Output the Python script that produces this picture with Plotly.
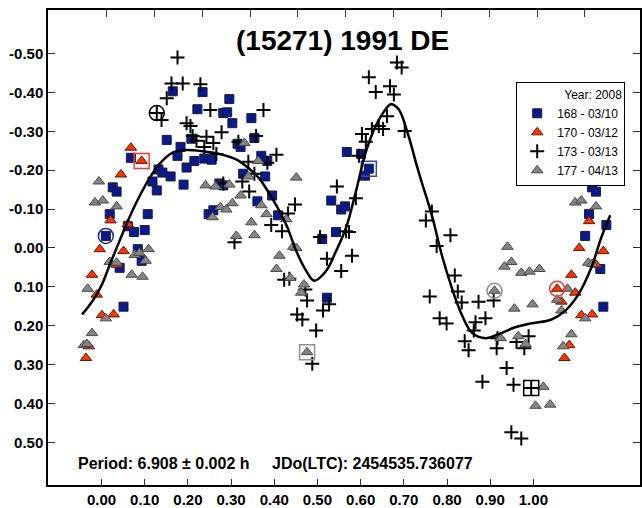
import plotly.graph_objects as go

# ---------------- data ----------------
# Night 168 - 03/10 (blue squares)
n168_phase = [0.165, 0.234, 0.296, 0.222, 0.282, 0.291, 0.347, 0.303, 0.151, 0.183,
              0.208, 0.315, 0.322, 0.354, 0.176, 0.068, 0.215, 0.238, 0.255, 0.370,
              0.384, 0.197, 0.132, 0.141, 0.160, 0.118, 0.128, 0.190, 0.273, 0.282,
              0.328, 0.379, 0.395, 0.361, 0.026, 0.035, 0.019, 0.107, 0.075, 0.100,
              0.061, 0.248, 0.259, 0.010, 0.084, 0.093, 0.042, 0.051, 0.409, 0.511,
              0.532, 0.555, 0.564, 0.543, 0.568, 0.601, 0.619, 0.610, 0.522, 1.136,
              1.145, 1.129, 1.169, 1.120, 1.155, 1.162]
n168_mag = [-0.403, -0.401, -0.383, -0.357, -0.347, -0.349, -0.334, -0.321, -0.278, -0.260,
            -0.281, -0.268, -0.260, -0.283, -0.237, -0.232, -0.224, -0.230, -0.227, -0.237,
            -0.224, -0.207, -0.202, -0.194, -0.184, -0.171, -0.148, -0.163, -0.166, -0.161,
            -0.191, -0.184, -0.135, -0.120, -0.156, -0.145, -0.087, -0.087, -0.041, -0.046,
            -0.056, -0.087, -0.097, -0.031, 0.003, 0.033, 0.051, 0.151, -0.084, -0.023,
            -0.122, -0.099, -0.107, -0.041, -0.247, -0.242, -0.204, -0.186, 0.128, -0.156,
            -0.145, -0.087, -0.059, -0.031, 0.054, 0.151]

# Night 170 - 03/12 (red triangles)
n170_phase = [0.068, 0.093, 0.045, 0.021, 0.061, -0.004, 0.051, 0.035, -0.022, -0.011,
              0.001, 0.028, -0.029, -0.036, 1.155, 1.129, 1.106, 1.162, 1.145, 1.088,
              1.055, 1.065, 1.097, 1.111, 1.136, 1.083, 1.072]
n170_mag = [-0.258, -0.224, -0.189, -0.071, -0.061, 0.003, 0.008, 0.043, 0.069, 0.120,
            0.173, 0.171, 0.253, 0.283, -0.189, -0.069, 0.000, 0.008, 0.043, 0.069,
            0.105, 0.138, 0.115, 0.173, 0.171, 0.250, 0.283]

# Night 173 - 03/13 (black crosses)
n173_phase = [0.176, 0.162, 0.188, 0.229, 0.151, 0.128, 0.139, 0.252, 0.197, 0.206,
              0.278, 0.211, 0.243, 0.259, 0.220, 0.238, 0.266, 0.317, 0.358, 0.375,
              0.405, 0.340, 0.384, 0.354, 0.326, 0.282, 0.342, 0.432, 0.448, 0.393,
              0.418, 0.308, 0.506, 0.522, 0.555, 0.580, 0.566, 0.573, 0.589, 0.545,
              0.603, 0.612, 0.626, 0.642, 0.652, 0.661, 0.635, 0.619, 0.668, 0.677,
              0.684, 0.695, 0.702, 0.423, 0.435, 0.472, 0.476, 0.453, 0.465, 0.497,
              0.513, 0.527, 0.488, 0.765, 0.751, 0.808, 0.776, 0.818, 0.825, 0.760,
              0.834, 0.873, 0.908, 0.783, 0.799, 0.866, 0.889, 0.862, 0.841, 0.850,
              0.917, 0.915, 0.961, 0.979, 0.989, 0.938, 0.882, 0.954, 0.995, 0.949,
              0.972, 0.596]
n173_mag = [-0.490, -0.423, -0.423, -0.421, -0.385, -0.347, -0.329, -0.355, -0.321, -0.314,
            -0.298, -0.288, -0.286, -0.270, -0.276, -0.260, -0.242, -0.273, -0.288, -0.355,
            -0.240, -0.222, -0.219, -0.191, -0.171, -0.166, -0.145, -0.089, -0.112, -0.059,
            -0.043, -0.015, -0.028, 0.028, 0.059, 0.020, -0.043, -0.041, -0.128, -0.158,
            -0.293, -0.273, -0.306, -0.314, -0.306, -0.339, -0.401, -0.439, -0.416, -0.395,
            -0.477, -0.464, -0.301, 0.082, 0.079, 0.107, 0.135, 0.171, 0.184, 0.212,
            0.161, 0.145, 0.298, -0.094, -0.071, -0.033, -0.005, 0.071, 0.112, 0.125,
            0.140, 0.138, 0.135, 0.181, 0.194, 0.191, 0.181, 0.212, 0.240, 0.263,
            0.232, 0.258, 0.242, 0.258, 0.227, 0.309, 0.344, 0.352, 0.360, 0.474,
            0.490, -0.237]

# Night 177 - 04/13 (grey triangles)
n177_phase = [-0.006, -0.015, 0.003, 0.035, 0.241, 0.264, 0.296, 0.322, 0.331, 0.363,
              0.451, 0.340, 0.370, 0.382, 0.275, 0.289, 0.303, 0.257, 0.347, 0.428,
              0.354, 0.312, 0.444, 0.451, 0.412, 0.405, 0.437, 0.469, 0.462, 0.476,
              0.109, 0.019, 0.035, 0.077, 0.088, 0.102, 0.070, 0.095, -0.032, 0.010,
              -0.022, -0.041, -0.034, 1.102, 1.097, 1.111, 1.145, 0.940, 0.949, 0.933,
              0.972, 0.991, 1.014, 1.127, 1.136, 0.910, 1.079, 1.055, 1.065, 0.956,
              0.998, 1.120, 1.088, 1.069, 0.924, 0.965, 0.982, 1.023, 1.005, 1.039]
n177_mag = [-0.171, -0.117, -0.122, -0.107, -0.161, -0.158, -0.163, -0.135, -0.270, -0.224,
            -0.181, -0.184, -0.110, -0.087, -0.105, -0.099, -0.115, -0.079, -0.066, -0.074,
            -0.033, -0.031, -0.003, 0.000, 0.020, 0.054, 0.077, 0.094, 0.115, 0.268,
            0.003, 0.036, 0.038, 0.018, 0.013, 0.033, 0.069, 0.074, 0.105, 0.181,
            0.219, 0.250, 0.247, -0.171, -0.117, -0.122, -0.107, -0.003, 0.036, 0.048,
            0.064, 0.061, 0.054, 0.038, 0.041, 0.110, 0.105, 0.133, 0.161, 0.156,
            0.145, 0.181, 0.222, 0.253, 0.232, 0.227, 0.247, 0.357, 0.406, 0.403]

# Highlighted reference points (one circle and one square per night)
ref_phase = [0.010, 0.093, 0.128, 0.619, 0.476, 0.910, 1.055, 0.995]
ref_mag = [-0.031, -0.224, -0.347, -0.204, 0.268, 0.110, 0.105, 0.360]

# Fourier fit curve
curve_phase = [-0.045, -0.020, 0.001, 0.019, 0.038, 0.054, 0.070, 0.088, 0.111, 0.135,
               0.165, 0.197, 0.234, 0.273, 0.312, 0.342, 0.365, 0.395, 0.428, 0.451,
               0.474, 0.492, 0.520, 0.543, 0.566, 0.589, 0.612, 0.635, 0.658, 0.670,
               0.688, 0.711, 0.730, 0.741, 0.765, 0.788, 0.811, 0.834, 0.857, 0.889,
               0.919, 0.958, 0.995, 1.042, 1.074, 1.104, 1.134, 1.157, 1.178]
curve_mag = [0.171, 0.135, 0.094, 0.043, -0.008, -0.051, -0.092, -0.133, -0.179, -0.217,
             -0.245, -0.252, -0.249, -0.242, -0.228, -0.204, -0.179, -0.128, -0.059, 0.008,
             0.059, 0.084, 0.059, 0.008, -0.051, -0.145, -0.247, -0.314, -0.357, -0.370,
             -0.357, -0.288, -0.212, -0.171, -0.084, 0.018, 0.102, 0.171, 0.217, 0.232,
             0.222, 0.204, 0.194, 0.184, 0.161, 0.120, 0.051, -0.026, -0.084]

x_tickvals = [0.0, 0.1, 0.2, 0.3, 0.4, 0.5, 0.6, 0.7, 0.8, 0.9, 1.0]
x_ticktext = ["0.00", "0.10", "0.20", "0.30", "0.40", "0.50", "0.60", "0.70", "0.80", "0.90", "1.00"]
y_tickvals = [-0.5, -0.4, -0.3, -0.2, -0.1, 0.0, 0.1, 0.2, 0.3, 0.4, 0.5]
y_ticktext = ["-0.50", "-0.40", "-0.30", "-0.20", "-0.10", "0.00", "0.10", "0.20", "0.30", "0.40", "0.50"]

title_text = "(15271) 1991 DE"
period_text = "Period: 6.908 ± 0.002 h"
epoch_text = "JDo(LTC): 2454535.736077"
legend_title = "Year: 2008"
names = ["168 - 03/10", "170 - 03/12", "173 - 03/13", "177 - 04/13"]

# ---------------- figure ----------------
FONT = "Arial, 'Liberation Sans', sans-serif"
fig = go.Figure()

fig.add_trace(go.Scatter(x=n168_phase, y=n168_mag, mode="markers", name=names[0],
                         marker=dict(symbol="square", size=9, color="#0a1a8c",
                                     line=dict(color="#1a1a3a", width=1))))
fig.add_trace(go.Scatter(x=n170_phase, y=n170_mag, mode="markers", name=names[1],
                         marker=dict(symbol="triangle-up", size=10, color="#ff3300",
                                     line=dict(color="#5a1a0a", width=1))))
fig.add_trace(go.Scatter(x=n173_phase, y=n173_mag, mode="markers", name=names[2],
                         marker=dict(symbol="cross-thin-open", size=10, color="#000000",
                                     line=dict(color="#000000", width=2))))
fig.add_trace(go.Scatter(x=n177_phase, y=n177_mag, mode="markers", name=names[3],
                         marker=dict(symbol="triangle-up", size=10, color="#858585",
                                     line=dict(color="#4a4a4a", width=1))))

ref_symbols = ["circle-open", "square-open", "circle-open", "square-open",
               "square-open", "circle-open", "circle-open", "square-open"]
ref_colors = ["#1a2a9a", "#ff3a2a", "#000000", "#3848b0",
              "#909090", "#909090", "#ff3a2a", "#000000"]
fig.add_trace(go.Scatter(x=ref_phase, y=ref_mag, mode="markers", showlegend=False,
                         marker=dict(symbol=ref_symbols, size=15, color=ref_colors,
                                     line=dict(color=ref_colors, width=1.5))))

fig.add_trace(go.Scatter(x=curve_phase, y=curve_mag, mode="lines", showlegend=False,
                         line=dict(color="#000000", width=2.5, shape="spline", smoothing=1.0)))

# empty trace on the secondary top axis so that it is drawn
fig.add_trace(go.Scatter(x=[], y=[], xaxis="x2", showlegend=False, hoverinfo="skip"))

fig.update_layout(
    width=642, height=508,
    margin=dict(l=48, r=0, t=10, b=19),
    paper_bgcolor="white", plot_bgcolor="white",
    font=dict(family=FONT, color="#000000"),
    showlegend=True,
    legend=dict(
        x=0.975, y=0.848, xanchor="right", yanchor="top",
        bgcolor="white", bordercolor="#000000", borderwidth=1,
        font=dict(family=FONT, size=12, color="#000000"),
        title=dict(text=legend_title, side="top right",
                   font=dict(family=FONT, size=12, color="#000000")),
        itemsizing="trace", tracegroupgap=0,
    ),
    xaxis=dict(
        range=[-0.1239, 1.2469], tickmode="array", tickvals=x_tickvals, ticktext=x_ticktext,
        ticks="inside", ticklen=6, tickcolor="#333333", tickwidth=1,
        showline=True, linecolor="#000000", linewidth=1.5, mirror=False,
        showgrid=False, zeroline=False,
        tickfont=dict(family=FONT, size=15, color="#000000", weight="bold"),
    ),
    xaxis2=dict(
        overlaying="x", side="top", anchor="y",
        range=[-0.1223, 1.1152], tickmode="array", tickvals=x_tickvals,
        ticks="inside", ticklen=7, tickcolor="#333333", tickwidth=1,
        showticklabels=False, showline=True, linecolor="#000000", linewidth=1.5,
        showgrid=False, zeroline=False,
    ),
    yaxis=dict(
        range=[0.6097, -0.6122], tickmode="array", tickvals=y_tickvals, ticktext=y_ticktext,
        ticks="inside", ticklen=7, tickcolor="#333333", tickwidth=1,
        showline=True, linecolor="#000000", linewidth=1.5, mirror="ticks",
        showgrid=False, zeroline=False,
        tickfont=dict(family=FONT, size=15, color="#000000", weight="bold"),
    ),
)

fig.add_annotation(text=title_text, xref="paper", yref="paper", x=0.497, y=0.936,
                   xanchor="center", yanchor="middle", showarrow=False,
                   font=dict(family=FONT, size=28, color="#000000", weight="bold"))
fig.add_annotation(text=period_text, xref="paper", yref="paper", x=0.047, y=0.045,
                   xanchor="left", yanchor="middle", showarrow=False,
                   font=dict(family=FONT, size=16, color="#000000", weight="bold"))
fig.add_annotation(text=epoch_text, xref="paper", yref="paper", x=0.375, y=0.045,
                   xanchor="left", yanchor="middle", showarrow=False,
                   font=dict(family=FONT, size=16, color="#000000", weight="bold"))

fig.write_html("out.html")
